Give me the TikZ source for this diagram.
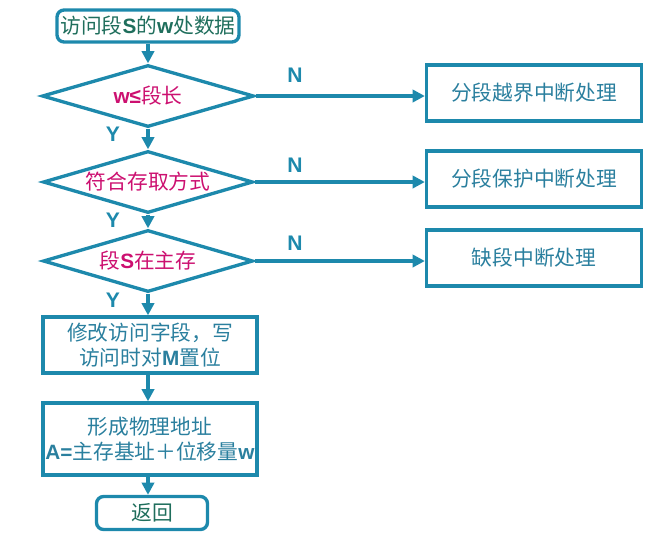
\documentclass[tikz,border=0pt]{standalone}
\usepackage{fontspec}
\setmainfont{Noto Sans CJK SC}
\newfontfamily\latf{Liberation Sans}
\usetikzlibrary{arrows.meta,positioning,shapes.geometric,calc}
\definecolor{flowline}{HTML}{1D89AC}
\definecolor{flowtext}{HTML}{2A7F9E}
\definecolor{flowgreen}{HTML}{1F6E5C}
\definecolor{flowpink}{HTML}{CC1070}
\newcommand{\en}[1]{{\latf\bfseries #1}}

\begin{document}
\begin{tikzpicture}[x=0.02cm, y=-0.02cm, >={Triangle[length=7pt,width=7pt]},
  every node/.style={font=\fontsize{11.8}{14.5}\selectfont},
  procbox/.style={draw=flowline, line width=1.9pt, inner sep=0pt, align=center, text=flowtext},
  termbox/.style={procbox, rounded corners=4pt, text=flowgreen},
  decision/.style={diamond, draw=flowline, line width=1.9pt, inner sep=0pt, shape aspect=3.4, text=flowpink},
  arr/.style={->, line width=1.9pt, flowline},
  yn/.style={font=\latf\bfseries\fontsize{12}{14}\selectfont, text=flowline}]
  \useasboundingbox (0,0) rectangle (666,538);

  % main column
  \node[termbox, minimum width=3.64cm, minimum height=0.64cm] (start) at (148,26) {访问段\en{S}的\en{w}处数据};
  \node[decision, minimum width=4.24cm, minimum height=1.24cm] (chklen) at (148,96) {\en{w≤}段长};
  \node[decision, minimum width=4.2cm, minimum height=1.24cm] (chkmode) at (148,182) {符合存取方式};
  \node[decision, minimum width=4.2cm, minimum height=1.24cm] (chkmem) at (148,261) {段\en{S}在主存};
  \node[procbox, minimum width=4.28cm, minimum height=1.12cm] (update) at (150,345) {修改访问字段，写\\访问时对\en{M}置位};
  \node[procbox, minimum width=4.28cm, minimum height=1.44cm] (addr) at (150,439) {形成物理地址\\\en{A=}主存基址＋位移量\en{w}};
  \node[termbox, minimum width=2.22cm, minimum height=0.66cm] (ret) at (152,513) {返回};

  % interrupt handlers
  \node[procbox, minimum width=4.3cm, minimum height=1.12cm] (intlen) at (534,93) {分段越界中断处理};
  \node[procbox, minimum width=4.3cm, minimum height=1.12cm] (intprot) at (534,179) {分段保护中断处理};
  \node[procbox, minimum width=4.3cm, minimum height=1.12cm] (intmiss) at (534,258) {缺段中断处理};

  \draw[arr] (start) -- (chklen);
  \draw[arr] (chklen) -- (chkmode);
  \draw[arr] (chkmode) -- (chkmem);
  \draw[arr] (chkmem.south) -- (chkmem.south |- update.north);
  \draw[arr] (chkmem.south |- update.south) -- (chkmem.south |- addr.north);
  \draw[arr] (chkmem.south |- addr.south) -- (chkmem.south |- ret.north);

  \draw[arr] (chklen.east) -- (chklen.east -| intlen.west);
  \draw[arr] (chkmode.east) -- (chkmode.east -| intprot.west);
  \draw[arr] (chkmem.east) -- (chkmem.east -| intmiss.west);

  \node[yn] (n1) at (295,75) {N};
  \node[yn] (n2) at (295,165) {N};
  \node[yn] (n3) at (295,243) {N};
  \node[yn] (y1) at (113,134) {Y};
  \node[yn] (y2) at (113,220) {Y};
  \node[yn] (y3) at (113,300) {Y};
\end{tikzpicture}
\end{document}
